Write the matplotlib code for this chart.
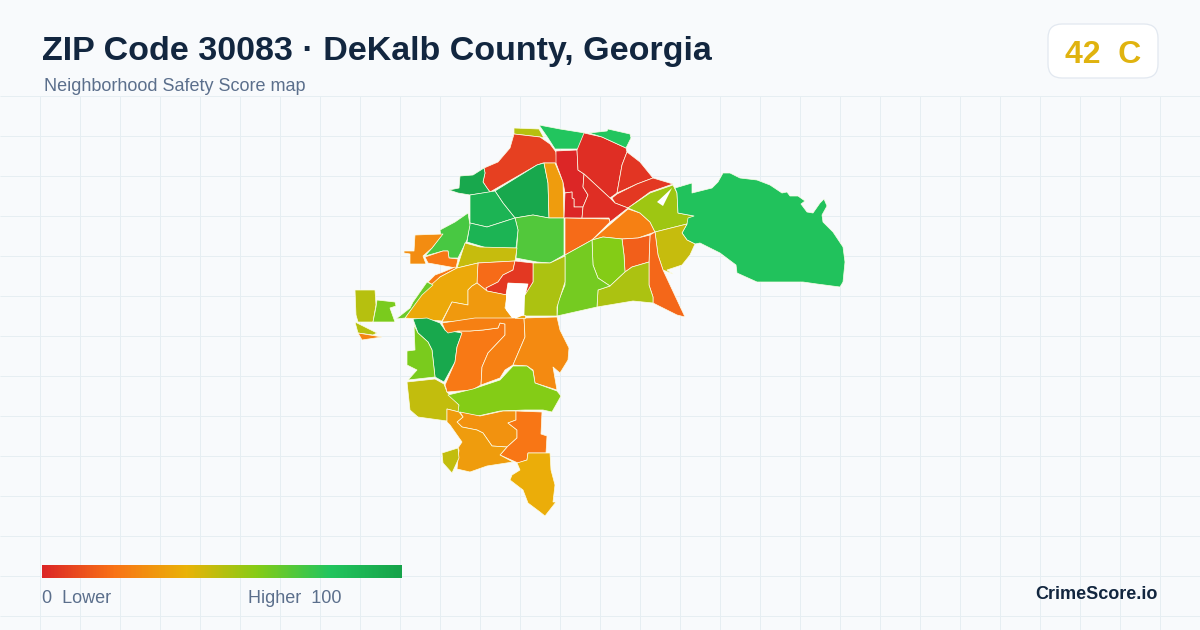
import numpy as np
import matplotlib
matplotlib.use("Agg")
import matplotlib.pyplot as plt
from matplotlib.colors import LinearSegmentedColormap, Normalize
from matplotlib.patches import FancyBboxPatch, Polygon

plt.rcParams["font.family"] = ["Liberation Sans", "DejaVu Sans"]

title = "ZIP Code 30083 · DeKalb County, Georgia"
subtitle = "Neighborhood Safety Score map"
overall_score = 42
overall_grade = "C"
legend_low = "0  Lower"
legend_high = "Higher  100"
brand = "CrimeScore.io"

score_stops = [0, 20, 40, 60, 80, 100]
stop_colors = ["#dc2626", "#f97316", "#eab308", "#84cc16", "#22c55e", "#16a34a"]

# neighbourhood outlines (image x, image y)
tract_outlines = [
    [(514,128),(539,129),(544,138),(540,137),(514,134)],
    [(539,125),(560,129),(585,133),(584,149),(555,149),(548,138)],
    [(514,134),(540,137),(550,144),(556,152),(557,163),(543,163),(537,165),(490,192),(487,188),(483,182),(485,173),(484,168),(498,162),(510,148)],
    [(484,168),(485,173),(483,182),(487,188),(490,192),(470,195),(458,193),(449,190),(459,188),(460,176),(473,175)],
    [(495,191),(537,165),(544,163),(548,183),(549,218),(533,215),(515,218),(503,203)],
    [(544,163),(555,163),(563,182),(564,218),(549,218),(548,183)],
    [(556,151),(577,150),(578,170),(584,174),(583,187),(588,195),(583,207),(574,207),(574,199),(572,198),(572,192),(565,193),(563,182),(556,163)],
    [(565,193),(572,192),(572,198),(574,199),(574,207),(583,207),(582,218),(564,218)],
    [(577,150),(584,133),(602,137),(626,148),(627,152),(622,165),(617,193),(610,198),(584,174),(578,170)],
    [(589,133),(607,131),(608,129),(630,134),(631,138),(626,148),(602,137)],
    [(627,152),(640,162),(653,178),(637,184),(617,193),(622,165)],
    [(653,178),(673,184),(650,192),(628,208),(615,203),(612,198),(617,194),(637,184)],
    [(584,174),(610,198),(615,203),(628,208),(610,222),(609,218),(582,218),(583,207),(588,195),(583,187)],
    [(565,218),(609,219),(610,222),(592,240),(565,255)],
    [(628,209),(640,213),(650,222),(655,232),(638,238),(622,239),(603,237),(592,240)],
    [(628,208),(650,193),(673,185),(677,193),(678,213),(694,216),(687,224),(655,232),(650,222),(640,213)],
    [(675,188),(692,183),(692,193),(712,188),(718,182),(723,173),(730,173),(740,178),(757,180),(770,185),(782,193),(787,192),(790,196),(798,196),(805,201),(801,204),(807,212),(813,213),(820,203),(824,199),(827,206),(822,215),(823,222),(833,232),(843,247),(845,262),(843,282),(840,287),(817,284),(803,282),(780,282),(757,282),(737,273),(736,265),(720,253),(700,243),(695,244),(687,240),(682,233),(687,224),(688,218),(694,216),(678,213),(677,193)],
    [(655,232),(687,224),(682,233),(687,240),(695,244),(690,255),(682,265),(667,270),(673,274),(663,270),(658,255)],
    [(650,235),(655,232),(658,255),(663,270),(685,317),(677,315),(653,303),(653,297),(649,285),(649,262)],
    [(622,239),(638,238),(650,235),(649,262),(632,267),(625,272),(624,255)],
    [(592,240),(603,237),(622,239),(624,255),(625,272),(610,286),(598,278),(593,265)],
    [(610,286),(625,272),(632,267),(649,262),(649,285),(653,297),(653,303),(633,301),(597,307),(598,290)],
    [(565,255),(592,240),(593,265),(598,278),(610,286),(598,290),(597,307),(557,316),(558,302),(565,285)],
    [(515,218),(533,215),(549,218),(564,218),(564,255),(550,263),(537,262),(516,258),(518,230)],
    [(533,263),(550,263),(565,256),(565,282),(557,307),(557,316),(524,316),(524,295),(533,282)],
    [(470,195),(495,191),(503,203),(515,218),(487,227),(470,223)],
    [(470,223),(487,227),(515,218),(518,230),(516,248),(487,248),(467,242)],
    [(468,213),(470,225),(467,240),(458,258),(449,258),(448,251),(443,251),(425,256),(432,248),(441,236),(440,230),(455,222)],
    [(415,235),(443,234),(432,248),(423,256),(426,264),(410,264),(410,254),(404,253),(404,251),(414,251)],
    [(425,257),(443,251),(448,251),(449,258),(458,259),(456,268),(428,263)],
    [(455,267),(443,272),(435,275),(428,282),(433,285),(440,277),(457,268)],
    [(465,243),(480,247),(517,248),(515,261),(478,263),(457,268)],
    [(478,263),(515,261),(513,270),(503,275),(498,282),(486,288),(487,291),(477,283),(477,275)],
    [(515,261),(533,263),(533,282),(525,295),(528,284),(508,283),(506,295),(487,291),(486,288),(498,282),(503,275),(513,270)],
    [(478,263),(477,283),(472,286),(468,290),(468,305),(452,302),(442,321),(405,318),(422,293),(440,277),(457,268)],
    [(477,283),(487,291),(507,295),(505,308),(513,318),(442,322),(452,302),(468,305),(468,290),(472,286)],
    [(355,290),(375,290),(376,305),(373,322),(358,322),(356,315)],
    [(377,300),(395,302),(396,306),(390,308),(395,322),(373,322),(376,307)],
    [(396,319),(410,308),(413,302),(427,282),(433,285),(422,295),(405,318)],
    [(355,322),(377,333),(373,335),(358,333)],
    [(358,333),(382,337),(362,340)],
    [(413,319),(427,318),(440,323),(445,330),(462,333),(457,347),(455,362),(444,382),(435,377),(432,350),(428,342),(418,333)],
    [(414,325),(418,333),(428,342),(432,350),(435,377),(408,380),(417,370),(407,365),(407,351),(415,350)],
    [(407,382),(435,379),(444,384),(447,392),(459,405),(459,412),(447,409),(447,421),(418,417),(410,410)],
    [(445,385),(455,362),(457,347),(462,333),(458,331),(470,331),(483,330),(498,328),(500,323),(505,324),(505,335),(488,353),(482,367),(481,385),(472,390),(447,392),(446,388)],
    [(442,323),(475,318),(507,318),(524,318),(525,337),(513,365),(505,370),(500,378),(481,385),(482,367),(488,353),(505,335),(505,324),(500,323),(498,328),(483,330),(470,331),(458,331),(448,333),(445,330)],
    [(524,318),(557,317),(560,330),(569,348),(568,360),(560,373),(553,367),(557,390),(535,383),(533,370),(527,366),(513,365),(525,337)],
    [(448,395),(473,389),(500,380),(513,366),(527,366),(533,371),(535,383),(557,391),(561,396),(552,412),(543,410),(525,410),(500,411),(478,416),(458,412),(459,405)],
    [(460,412),(480,416),(503,411),(516,411),(516,420),(508,423),(517,430),(517,438),(507,447),(492,446),(483,433),(477,430),(462,427),(457,422),(463,417)],
    [(516,411),(542,412),(541,434),(547,436),(546,453),(528,453),(527,460),(518,463),(500,455),(507,447),(517,438),(517,430),(508,423),(516,420)],
    [(447,409),(459,412),(463,417),(457,422),(462,427),(477,430),(483,433),(492,446),(507,447),(500,455),(513,462),(500,464),(487,466),(470,472),(457,469),(459,450),(458,448),(462,442),(450,425),(447,422)],
    [(442,453),(458,448),(459,458),(452,473),(443,463)],
    [(528,453),(550,453),(551,470),(555,485),(553,502),(556,502),(545,516),(540,512),(528,503),(523,490),(510,480),(512,475),(520,470),(517,463),(527,460)],
    [(515,315),(525,315),(525,318),(515,318)],
]
# one score for each outline above, same order
tract_scores = [
    50, 80, 7, 97, 97, 33, 0, 0, 2, 80, 4, 5, 2, 18, 24, 55, 82, 47, 17, 15,
    60, 52, 63, 70, 52, 90, 90, 72, 28, 22, 22, 47, 18, 5, 37, 32, 50, 62, 65,
    50, 25, 97, 62, 48, 22, 24, 27, 60, 30, 21, 33, 48, 38, 35,
]
# places inside the outline with no data
gap_outlines = [
    [(508,283),(528,284),(525,295),(524,315),(517,318),(512,318),(506,310),(506,295)],
    [(657,202),(672,188),(663,206)],
]

bg_color = "#f8fafc"
grid_color = "#e6eef2"
edge_color = "#fdfde8"
ink = "#12263f"
muted = "#5b6f8c"

fig = plt.figure(figsize=(12, 6.3), dpi=100, facecolor=bg_color)
ax = fig.add_axes([0, 0, 1, 1])
ax.set_facecolor(bg_color)

# grid behind the map
ax.vlines(np.arange(40, 1200, 40), 96, 630, color=grid_color, lw=0.72, zorder=1)
ax.hlines(np.arange(96, 630, 40), 0, 1200, color=grid_color, lw=0.72, zorder=1)

cmap = LinearSegmentedColormap.from_list(
    "safety", [(s / 100, c) for s, c in zip(score_stops, stop_colors)])
norm = Normalize(0, 100)

for outline, score in zip(tract_outlines, tract_scores):
    ax.add_patch(Polygon(outline, closed=True, facecolor=cmap(norm(score)),
                         edgecolor=edge_color, lw=0.5, joinstyle="round", zorder=3))
for outline in gap_outlines:
    ax.add_patch(Polygon(outline, closed=True, facecolor="white", edgecolor="none", zorder=4))

# colour legend
gradient = np.linspace(0, 1, 360).reshape(1, -1)
ax.imshow(gradient, cmap=cmap, extent=(42, 402, 578, 565), aspect="auto", zorder=3)
ax.set_xlim(0, 1200)
ax.set_ylim(630, 0)
ax.axis("off")

ax.text(42, 60, title, fontsize=24.5, fontweight="bold", color=ink, zorder=5)
ax.text(44, 91, subtitle, fontsize=13, color=muted, zorder=5)
ax.text(42, 603, legend_low, fontsize=13, color=muted, zorder=5)
ax.text(342, 603, legend_high, fontsize=13, color=muted, ha="right", zorder=5)
ax.text(1158, 599, brand, fontsize=13, fontweight="bold", color=ink, ha="right", zorder=5)

# score badge
ax.add_patch(FancyBboxPatch((1062, 38), 82, 26, boxstyle="round,pad=14,rounding_size=14",
                            facecolor="white", edgecolor="#e2e8f0", lw=0.9, zorder=4))
ax.text(1103, 63, f"{overall_score}  {overall_grade}", fontsize=23, fontweight="bold",
        color="#e0b30f", ha="center", zorder=5)

fig.savefig("out.png", dpi=100, facecolor=bg_color)
